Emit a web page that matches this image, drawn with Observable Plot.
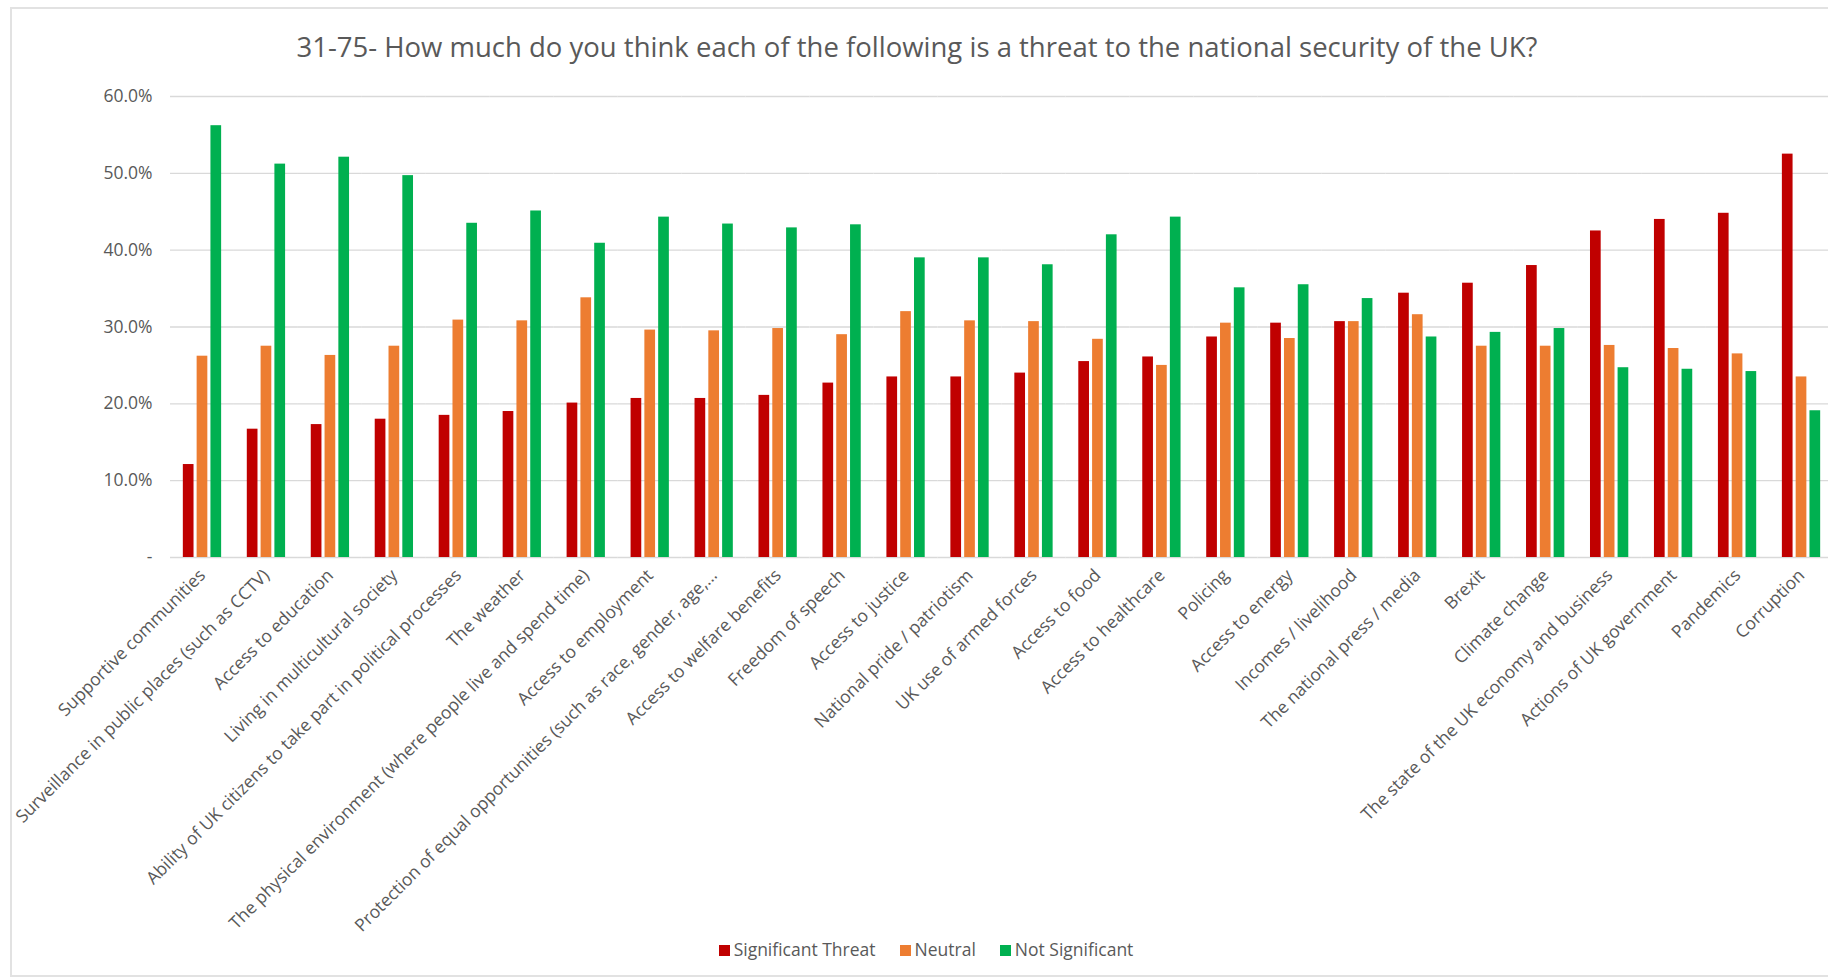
<!DOCTYPE html>
<html>
<head>
<meta charset="utf-8">
<script src="https://cdn.jsdelivr.net/npm/d3@7"></script>
<script src="https://cdn.jsdelivr.net/npm/@observablehq/plot@0.6"></script>
<style>
  html, body { margin: 0; padding: 0; overflow: hidden; background: #fff; width: 1828px; height: 979px; }
  body { position: relative; font-family: "Open Sans", sans-serif; color: #595959; }
  #frame { position: absolute; left: 10px; top: 7px; width: 1900px; height: 970px; border: 2px solid #e2e2e2; box-sizing: border-box; }
  #title { position: absolute; left: 0; top: 30px; width: 1834px; text-align: center; font-size: 27.5px; line-height: 34px; color: #595959; }
  #chart { position: absolute; left: 0; top: 78px; }
  #legend { position: absolute; left: 0; top: 937px; width: 1852px; text-align: center; font-size: 17.5px; line-height: 24px; color: #595959; }
  #legend .item { display: inline-block; margin: 0 12px; }
  #legend .sw { display: inline-block; width: 11px; height: 11px; margin-right: 4px; vertical-align: 0px; }
</style>
</head>
<body>
<div id="frame"></div>
<div id="title"></div>
<div id="chart"></div>
<div id="legend"></div>
<script>
const titleText = "31-75- How much do you think each of the following is a threat to the national security of the UK?";

const categories = [
  "Supportive communities",
  "Surveillance in public places (such as CCTV)",
  "Access to education",
  "Living in multicultural society",
  "Ability of UK citizens to take part in political processes",
  "The weather",
  "The physical environment (where people live and spend time)",
  "Access to employment",
  "Protection of equal opportunities (such as race, gender, age,…",
  "Access to welfare benefits",
  "Freedom of speech",
  "Access to justice",
  "National pride / patriotism",
  "UK use of armed forces",
  "Access to food",
  "Access to healthcare",
  "Policing",
  "Access to energy",
  "Incomes / livelihood",
  "The national press / media",
  "Brexit",
  "Climate change",
  "The state of the UK economy and business",
  "Actions of UK government",
  "Pandemics",
  "Corruption"
];

const seriesNames = ["Significant Threat", "Neutral", "Not Significant"];
const seriesColors = ["#C00000", "#ED7D31", "#00B050"];

const significantThreat = [12.1, 16.7, 17.3, 18.0, 18.5, 19.0, 20.1, 20.7, 20.7, 21.1, 22.7, 23.5, 23.5, 24.0, 25.5, 26.1, 28.7, 30.5, 30.7, 34.4, 35.7, 38.0, 42.5, 44.0, 44.8, 52.5];
const neutral = [26.2, 27.5, 26.3, 27.5, 30.9, 30.8, 33.8, 29.6, 29.5, 29.8, 29.0, 32.0, 30.8, 30.7, 28.4, 25.0, 30.5, 28.5, 30.7, 31.6, 27.5, 27.5, 27.6, 27.2, 26.5, 23.5];
const notSignificant = [56.2, 51.2, 52.1, 49.7, 43.5, 45.1, 40.9, 44.3, 43.4, 42.9, 43.3, 39.0, 39.0, 38.1, 42.0, 44.3, 35.1, 35.5, 33.7, 28.7, 29.3, 29.8, 24.7, 24.5, 24.2, 19.1];

const yTicks = [0, 10, 20, 30, 40, 50, 60];

const seriesValues = [significantThreat, neutral, notSignificant];
const data = [];
categories.forEach((c, i) => {
  seriesNames.forEach((s, j) => {
    data.push({category: c, series: s, value: seriesValues[j][i]});
  });
});

document.getElementById("title").textContent = titleText;

const chart = Plot.plot({
  width: 1833,
  height: 860,
  marginTop: 18,
  marginBottom: 381,
  marginLeft: 170,
  marginRight: 0,
  style: {
    background: "none",
    maxWidth: "none",
    overflow: "visible",
    fontFamily: "'Open Sans', sans-serif",
    fontSize: "17.5px",
    color: "#595959"
  },
  fx: {
    domain: categories,
    paddingInner: 0,
    paddingOuter: 0,
    round: false,
    axis: "bottom",
    tickRotate: -45,
    tickSize: 0,
    tickPadding: 15,
    label: null
  },
  x: {
    domain: seriesNames,
    paddingInner: 0.225,
    paddingOuter: 0.93,
    round: false,
    axis: null
  },
  y: {
    domain: [0, 60],
    ticks: yTicks,
    tickFormat: d => d === 0 ? "-" : d.toFixed(1) + "%",
    tickSize: 0,
    tickPadding: 18,
    label: null
  },
  color: {
    domain: seriesNames,
    range: seriesColors
  },
  marks: [
    Plot.ruleY(yTicks, {stroke: "#d9d9d9", strokeWidth: 1.3}),
    Plot.barY(data, {fx: "category", x: "series", y: "value", fill: "series"})
  ]
});
document.getElementById("chart").appendChild(chart);

const legend = document.getElementById("legend");
seriesNames.forEach((s, i) => {
  const item = document.createElement("span");
  item.className = "item";
  const sw = document.createElement("span");
  sw.className = "sw";
  sw.style.background = seriesColors[i];
  item.appendChild(sw);
  item.appendChild(document.createTextNode(s));
  legend.appendChild(item);
});
</script>
</body>
</html>
